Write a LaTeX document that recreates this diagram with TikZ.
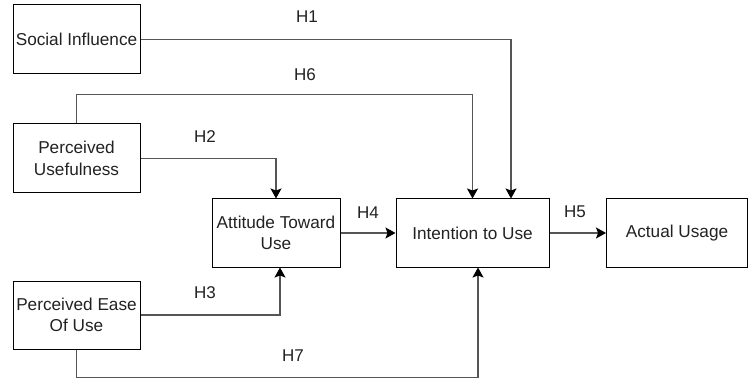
\documentclass[tikz,border=0pt]{standalone}
\usepackage{fontspec}
\setmainfont{Liberation Sans}
\usetikzlibrary{arrows.meta}
\definecolor{txt}{HTML}{222222}
\definecolor{conn}{HTML}{555555}
\tikzset{
  box/.style={draw=black, line width=1pt, align=center, inner sep=0pt,
    font=\fontsize{17.2}{21.5}\selectfont, text=txt},
  conn/.style={draw=conn, line width=1.3pt, -{Stealth[length=10pt,width=11pt,inset=2pt,black]}},
  lbl/.style={font=\fontsize{17}{20}\selectfont, text=txt, inner sep=0pt}
}
\begin{document}
\begin{tikzpicture}[x=1pt,y=-1pt]
\useasboundingbox (0,0) rectangle (749,379);
\fill[white] (0,0) rectangle (749,379);
\node[box, minimum width=127pt, minimum height=69pt] (SI) at (76.5,39.5) {Social Influence};
\node[box, minimum width=127pt, minimum height=69pt] (PU) at (76.5,158.5) {Perceived\\Usefulness};
\node[box, minimum width=128pt, minimum height=68pt] (AT) at (276,233) {Attitude Toward\\Use};
\node[box, minimum width=153pt, minimum height=68pt] (IU) at (472.5,233) {Intention to Use};
\node[box, minimum width=141pt, minimum height=68pt] (AU) at (677,233) {Actual Usage};
\node[box, minimum width=127pt, minimum height=68pt] (PE) at (76.5,315) {Perceived Ease\\Of Use};

\draw[conn] (SI.east) -| ([xshift=38.5pt]IU.north);
\draw[conn] (PU.north) -- ++(0,-29) -| (IU.north);
\draw[conn] (PU.east) -| (AT.north);
\draw[conn] (PE.east) -| ([xshift=4pt]AT.south);
\draw[conn] (PE.south) -- ++(0,28) -| ([xshift=5.5pt]IU.south);
\draw[conn] (AT) -- (IU);
\draw[conn] (IU) -- (AU);

\node[lbl] (H1) at (307,17) {H1};
\node[lbl] (H6) at (305,75) {H6};
\node[lbl] (H2) at (205,137) {H2};
\node[lbl] (H3) at (205,293) {H3};
\node[lbl] (H7) at (293,356) {H7};
\node[lbl] (H4) at (368,213) {H4};
\node[lbl] (H5) at (575,212) {H5};
\end{tikzpicture}
\end{document}
